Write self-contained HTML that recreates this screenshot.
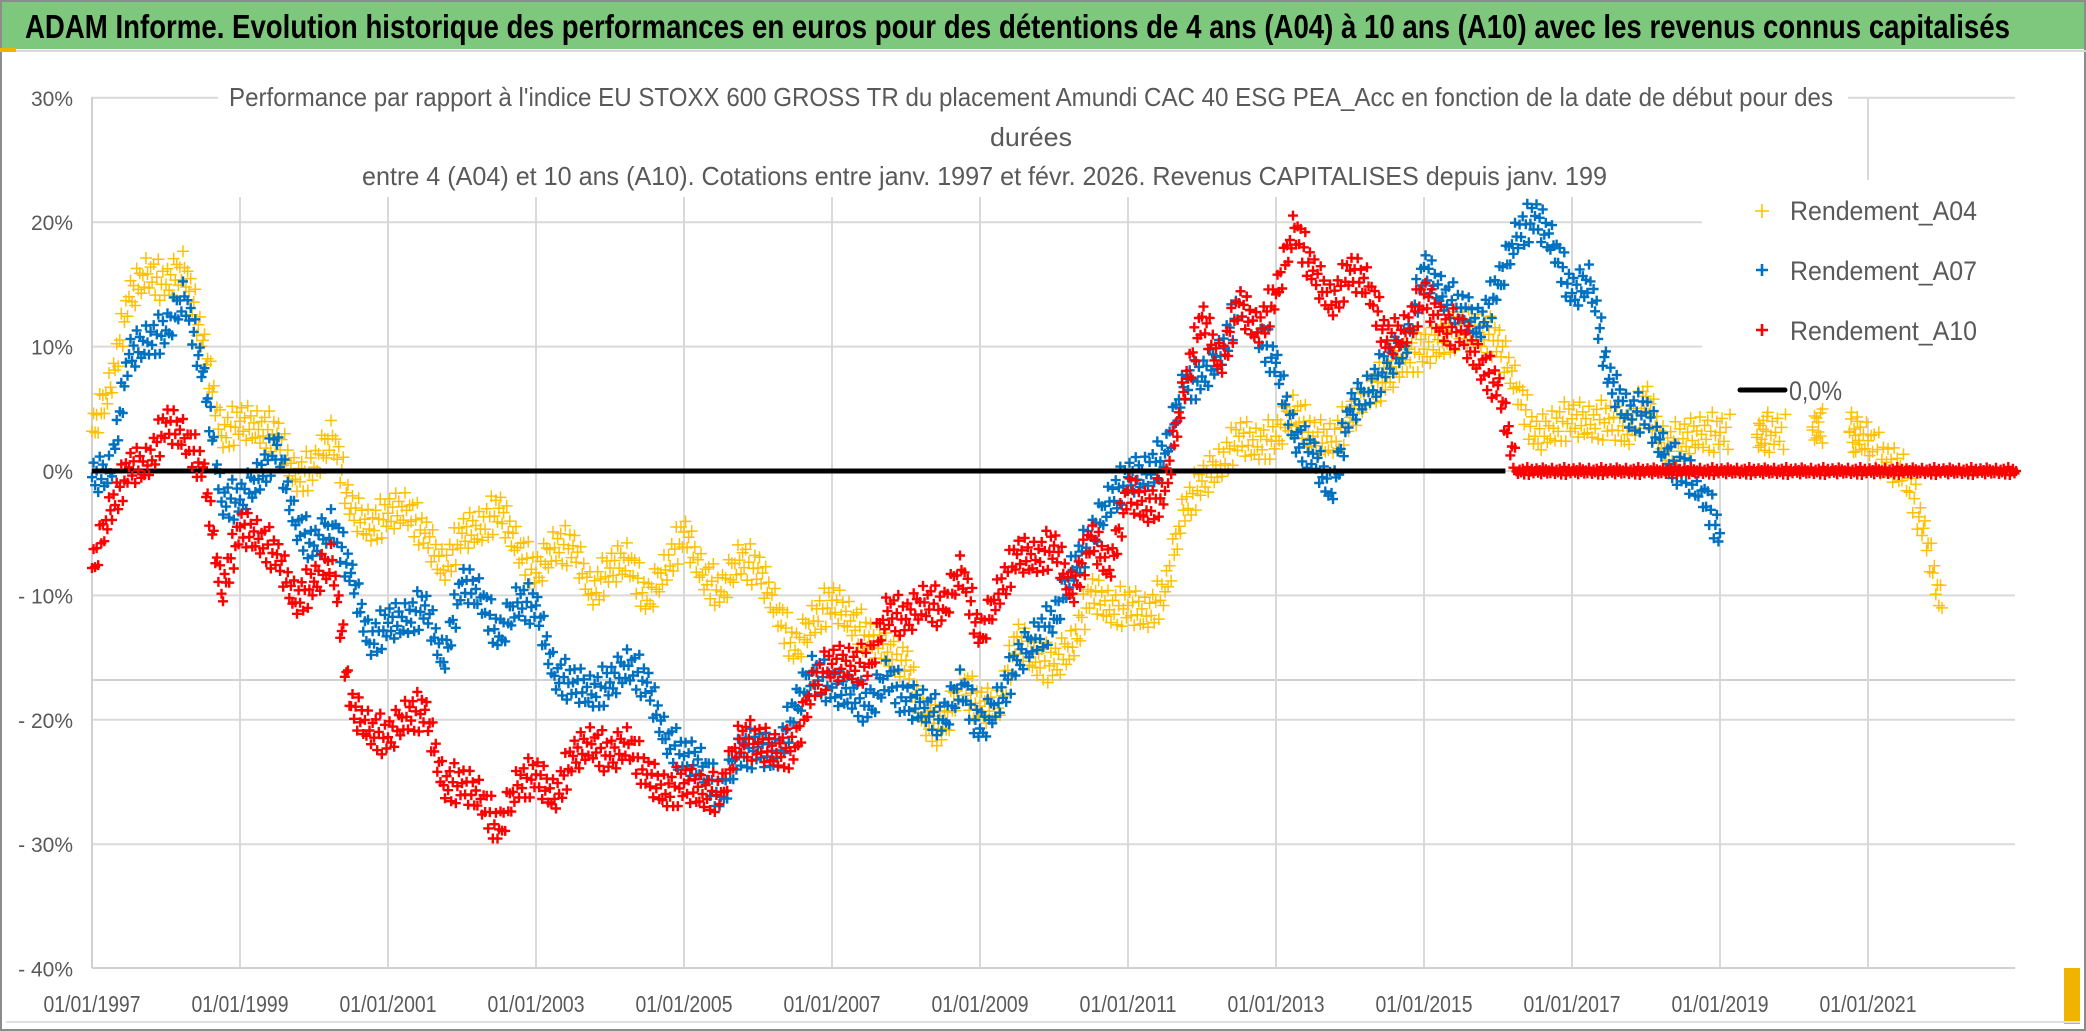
<!DOCTYPE html>
<html><head><meta charset="utf-8"><style>
html,body{margin:0;padding:0;background:#fff;}
svg{display:block;}
text{font-family:"Liberation Sans",sans-serif;}
</style></head><body>
<svg id="chart" width="2086" height="1031" viewBox="0 0 2086 1031">
  <rect x="0" y="0" width="2086" height="1031" fill="#ffffff"/>
  <rect x="1" y="1" width="2084" height="1029" fill="none" stroke="#8c8c8c" stroke-width="2"/>
  <rect x="2" y="2" width="2082" height="47" fill="#7dc87d"/>
  <line x1="0" y1="51" x2="2086" y2="51" stroke="#d9d9d9" stroke-width="2"/>
  <rect x="0" y="48" width="16" height="4" fill="#f0b400"/>
  <rect x="2064" y="968" width="16" height="56" fill="#f0b400"/>
  <rect x="6" y="1021" width="2074" height="2" fill="#e0e0e0"/>
  <text x="25" y="38" font-size="33" font-weight="bold" fill="#000" textLength="1985" lengthAdjust="spacingAndGlyphs">ADAM Informe. Evolution historique des performances en euros pour des détentions de 4 ans (A04) à 10 ans (A10) avec les revenus connus capitalisés</text>
  <g id="grid"></g>
  <rect x="218" y="70" width="1630" height="127" fill="#fff"/>
  <rect x="1702" y="180" width="320" height="238" fill="#fff"/>
  <g id="axes"></g>
  <g id="marks"></g>
  <g fill="#595959" font-size="26">
    <text x="229" y="106" textLength="1604" lengthAdjust="spacingAndGlyphs">Performance par rapport à l'indice EU STOXX 600 GROSS TR  du placement Amundi CAC 40 ESG PEA_Acc en fonction de la date de début pour des</text>
    <text x="1031" y="146" text-anchor="middle" textLength="82" lengthAdjust="spacingAndGlyphs">durées</text>
    <text x="362" y="185" textLength="1245" lengthAdjust="spacingAndGlyphs">entre 4 (A04) et 10 ans (A10). Cotations entre janv. 1997 et févr. 2026. Revenus CAPITALISES depuis janv. 199</text>
  </g>
  <g id="legend" fill="#595959" font-size="27">
    <g>
      <path d="M1755 211h14M1762 204v14" stroke="#ffc000" stroke-width="1.6"/>
      <text x="1790" y="220" textLength="187" lengthAdjust="spacingAndGlyphs">Rendement_A04</text>
    </g>
    <g>
      <path d="M1756 270h12M1762 264v12" stroke="#0070c0" stroke-width="2.6"/>
      <text x="1790" y="280" textLength="187" lengthAdjust="spacingAndGlyphs">Rendement_A07</text>
    </g>
    <g>
      <path d="M1756 330h12M1762 324v12" stroke="#ff0000" stroke-width="2.6"/>
      <text x="1790" y="340" textLength="187" lengthAdjust="spacingAndGlyphs">Rendement_A10</text>
    </g>
    <g>
      <line x1="1740" y1="390" x2="1785" y2="390" stroke="#000" stroke-width="5" stroke-linecap="round"/>
      <text x="1789" y="400" textLength="53" lengthAdjust="spacingAndGlyphs">0,0%</text>
    </g>
  </g>
</svg>
<script>
// ---- chart data ----
const xTickYears = [1997, 1999, 2001, 2003, 2005, 2007, 2009, 2011, 2013, 2015, 2017, 2019, 2021];
const xTickLabels = ["01/01/1997","01/01/1999","01/01/2001","01/01/2003","01/01/2005","01/01/2007","01/01/2009","01/01/2011","01/01/2013","01/01/2015","01/01/2017","01/01/2019","01/01/2021"];
const yTickValues = [30, 20, 10, 0, -10, -20, -30, -40];
const yTickLabels = ["30%","20%","10%","0%","- 10%","- 20%","- 30%","- 40%"];
const seriesStartYear = 1997;
const seriesStepYears = 0.25;
const rendementA04 = [3.2,6.9,14,16, 15,16.5,10.5,3, 4,3.5,3,-0.5, 0.3,3,-3,-4.5, -3.4,-3,-5,-7.8, -5,-4.5,-3,-6, -8.2,-6,-6,-9.7, -7.8,-7,-10.4,-7.8, -4.9,-8.2,-9.7,-7, -7.8,-11,-14.4,-11.9, -10.4,-11.9,-13.3,-14.4, -15.2,-20,-20.7,-17, -18.9,-18.9,-13.3,-15.2, -15.5,-14,-9.7,-11, -10.8,-11.5,-9.7,-3, -0.8,0.6,2.8,2.1, 2.8,5,2.8,2.5, 4.3,6.5,7.6,9.1, 9.8,10.5,11.7,11.3, 10.5,6.9,2.8,3.6, 4.2,3.9,4.2,3.1, 6,2,2.6,3.1, 3.1,null,3.1,3.1, null,3.7,null,3.1, 2.6,0.7,0,-4.6, -11];
const rendementA07 = [-0.5,0,9.4,10.5, 11.3,14.2,8,-2.3, -2.3,-0.5,2.1,-4.2, -6,-4.2,-8.2,-13.7, -12.2,-11.9,-10.8,-15.2, -8.9,-10,-13.3,-10.4, -10.8,-16.3,-17,-17.8, -17,-15.5,-17,-21.4, -22.9,-23.6,-26.2,-22.5, -22.2,-22.9,-18.9,-15.9, -17.4,-17.8,-18.9,-16.3, -18.5,-18.9,-20,-17, -20.7,-18.5,-15.2,-13.3, -11.9,-7.8,-5.3,-2.3, -0.5,-0.1,1.4,6.9, 7.6,9.4,13.5,11.3, 8.7,2.8,1.4,-1.6, 5,6.5,8.7,10.2, 16.4,14.2,13.1,11.7, 15,19,20.5,18.3, 14.3,15.4,7.4,4.7, 4.7,1.5,0,-1.4, -5];
const rendementA10 = [-7.8,-3,0.3,0.6, 3.9,2.8,0.3,-9.7, -4.5,-5.3,-6.7,-10.4, -8.9,-7,-18.9,-20.7, -21.4,-19.6,-19.2,-25.1, -25.1,-26.2,-28.8,-25.1, -24.4,-26.2,-22.9,-21.8, -22.9,-21.8,-24.4,-25.8, -25.1,-25.8,-25.8,-21.4, -21.8,-22.5,-22.2,-17, -15.5,-15.5,-15.5,-11.1, -11.9,-10.4,-11.1,-7.8, -13.3,-9.7,-6.7,-7, -6,-9.7,-5.3,-7.8, -1.6,-3,-1.6,6.5, 12.4,8.7,13.5,11.3, 14.2,19.7,16.1,13.5, 16.1,15,10.5,11.3, 14.2,11.7,11.3,8.7, 6.9,0,0,0, 0,0,0,0, 0,0,0,0, 0,0,0,0, 0,0,0,0, 0,0,0,0, 0,0,0,0, 0];
const zeroLineYears = [1997, 2016.1];
const zeroLineValues = [0, 0];

// ---- scales ----
const X0 = 92, PX_PER_YEAR = 74, Y0 = 471, PX_PER_PCT = 12.44;
const PLOT_LEFT = 92, PLOT_RIGHT = 2015, PLOT_TOP = 97, PLOT_BOTTOM = 968;
function xs(year){ return X0 + (year - 1997) * PX_PER_YEAR; }
function ys(v){ return Y0 - v * PX_PER_PCT; }
const NS = "http://www.w3.org/2000/svg";
function mk(tag, attrs, parent){ const e = document.createElementNS(NS, tag); for (const k in attrs) e.setAttribute(k, attrs[k]); parent.appendChild(e); return e; }

const grid = document.getElementById('grid');
const axes = document.getElementById('axes');
const marks = document.getElementById('marks');

yTickValues.forEach((v, i) => {
  const y = ys(v);
  if (v === -40) return;
  const ln = mk('line', {x1: PLOT_LEFT, x2: PLOT_RIGHT, y1: y, y2: y, stroke: '#d9d9d9', 'stroke-width': 2}, grid);
  
  
});
const extra = mk('line', {x1: PLOT_LEFT, x2: PLOT_RIGHT, y1: 680, y2: 680, stroke: '#d0d0d0', 'stroke-width': 2}, grid);


xTickYears.forEach((yr, i) => {
  if (i === 0) return;
  const x = xs(yr);
  const ln = mk('line', {x1: x, x2: x, y1: PLOT_TOP, y2: PLOT_BOTTOM, stroke: '#d9d9d9', 'stroke-width': 2}, grid);
  
  
});
const yAxis = mk('line', {x1: PLOT_LEFT, x2: PLOT_LEFT, y1: PLOT_TOP, y2: PLOT_BOTTOM, stroke: '#d0d0d0', 'stroke-width': 2}, axes);


const xAxis = mk('line', {x1: PLOT_LEFT, x2: PLOT_RIGHT, y1: PLOT_BOTTOM, y2: PLOT_BOTTOM, stroke: '#d0d0d0', 'stroke-width': 2}, axes);


yTickValues.forEach((v, i) => {
  const t = mk('text', {x: 73, y: ys(v) + 8, 'text-anchor': 'end', 'font-size': 21, fill: '#595959'}, axes);
  t.textContent = yTickLabels[i];
  
  
});
xTickYears.forEach((yr, i) => {
  const t = mk('text', {x: xs(yr), y: 1012, 'text-anchor': 'middle', 'font-size': 23, fill: '#595959', textLength: 97, lengthAdjust: 'spacingAndGlyphs'}, axes);
  t.textContent = xTickLabels[i];
  
  
});

const OFFS = [0,-14,9,-5,17,-18,5,-9,13,-3,11,-16,2,15,-7,7,-12,18,-1,-20,20,3,-11,12];
function drawSeries(values, color, arm, sw, name){
  let d = '';
  let k = 0;
  for (let i = 0; i < values.length - 1; i++) {
    const a = values[i], b = values[i+1];
    const xa = xs(seriesStartYear + i * seriesStepYears);
    const xb = xs(seriesStartYear + (i+1) * seriesStepYears);
    if (a === null && b === null) continue;
    if (a === null || b === null) {
      const v = a === null ? b : a, x = a === null ? xb : xa;
      for (let j = 0; j < 6; j++) { const y = ys(v) + OFFS[(k++) % OFFS.length]; d += `M${(x-arm+j*2).toFixed(1)} ${y.toFixed(1)}h${2*arm}M${(x+j*2).toFixed(1)} ${(y-arm).toFixed(1)}v${2*arm}`; }
      continue;
    }
    const ya = ys(a), yb = ys(b);
    const steps = Math.max(1, Math.round((xb - xa) / 1.6));
    const amp = (a === 0 && b === 0) ? 0.2 : 1;
    for (let s = 0; s < steps; s++) {
      const t = s / steps;
      const x = xa + (xb - xa) * t;
      const y = ya + (yb - ya) * t + OFFS[(k++) % OFFS.length] * amp;
      d += `M${(x-arm).toFixed(1)} ${y.toFixed(1)}h${2*arm}M${x.toFixed(1)} ${(y-arm).toFixed(1)}v${2*arm}`;
    }
  }
  const last = values[values.length-1];
  if (last !== null) {
    const x = xs(seriesStartYear + (values.length-1) * seriesStepYears), y = ys(last);
    d += `M${x-arm} ${y}h${2*arm}M${x} ${y-arm}v${2*arm}`;
  }
  const p = mk('path', {d: d, stroke: color, 'stroke-width': sw, fill: 'none'}, marks);
  
  
}
drawSeries(rendementA04, '#ffc000', 6, 1.5, 'series-a04-markers');
drawSeries(rendementA07, '#0070c0', 5, 2.4, 'series-a07-markers');
const zl = mk('line', {x1: xs(zeroLineYears[0]), x2: xs(zeroLineYears[1]), y1: ys(zeroLineValues[0]), y2: ys(zeroLineValues[1]), stroke: '#000', 'stroke-width': 5}, marks);


drawSeries(rendementA10, '#ff0000', 5, 2.4, 'series-a10-markers');
</script>
</body></html>
